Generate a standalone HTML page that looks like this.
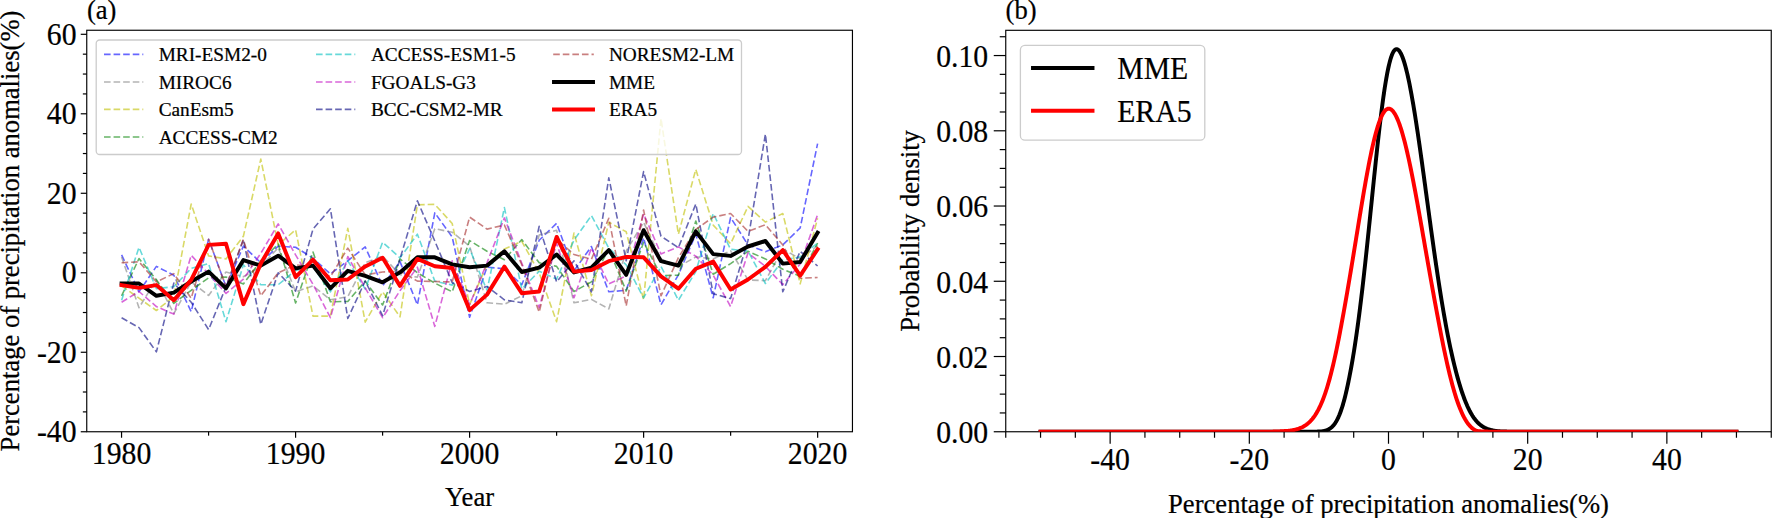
<!DOCTYPE html>
<html lang="en"><head><meta charset="utf-8"><title>Precipitation anomalies</title>
<style>html,body{margin:0;padding:0;background:#fff;}body{width:1772px;height:518px;overflow:hidden;}svg{display:block;}text{font-family:"Liberation Serif", "Times New Roman", serif;fill:#000;stroke:#000;stroke-width:0.22px;}.tk{font-size:31.2px;}.lb{font-size:26.6px;}.lg{font-size:19.3px;}.lgb{font-size:31.2px;}</style></head><body>
<svg width="1772" height="518" viewBox="0 0 1772 518">
<rect x="0" y="0" width="1772" height="518" fill="#ffffff"/>
<defs><clipPath id="ca"><rect x="86.75" y="30.25" width="765.70" height="401.50"/></clipPath><clipPath id="cb"><rect x="1005.75" y="30.30" width="765.50" height="401.45"/></clipPath></defs>
<g clip-path="url(#ca)" fill="none" stroke-linejoin="round">
<polyline points="121.6,254.9 139.0,291.8 156.4,266.4 173.8,275.2 191.2,311.7 208.6,239.2 226.0,286.7 243.4,246.1 260.8,262.8 278.2,246.1 295.6,247.3 313.0,258.1 330.4,274.0 347.8,260.8 365.2,246.9 382.6,285.9 400.0,261.6 417.4,304.8 434.8,212.8 452.2,237.0 469.6,317.3 487.0,267.2 504.4,268.8 521.8,284.7 539.2,240.2 556.6,223.3 574.0,270.8 591.4,246.5 608.8,291.8 626.2,290.3 643.6,237.8 661.0,304.8 678.4,274.8 695.8,234.2 713.2,297.8 730.6,217.5 748.0,244.9 765.4,251.7 782.8,244.9 800.2,227.9 817.6,143.6" stroke="#0000ff" stroke-opacity="0.60" stroke-width="1.60" stroke-dasharray="6.6 2.98"/>
<polyline points="121.6,256.9 139.0,307.7 156.4,279.5 173.8,313.7 191.2,281.9 208.6,295.4 226.0,272.0 243.4,276.7 260.8,266.8 278.2,247.7 295.6,291.8 313.0,285.9 330.4,299.8 347.8,296.6 365.2,262.8 382.6,256.1 400.0,274.8 417.4,277.1 434.8,228.7 452.2,232.2 469.6,246.1 487.0,302.8 504.4,304.2 521.8,295.8 539.2,235.0 556.6,230.2 574.0,302.8 591.4,299.4 608.8,308.9 626.2,250.9 643.6,222.3 661.0,258.9 678.4,266.8 695.8,256.9 713.2,258.9 730.6,250.9 748.0,279.9 765.4,280.7 782.8,248.9 800.2,258.9 817.6,245.7" stroke="#808080" stroke-opacity="0.60" stroke-width="1.60" stroke-dasharray="6.6 2.98"/>
<polyline points="121.6,285.9 139.0,298.2 156.4,310.5 173.8,296.6 191.2,204.0 208.6,255.9 226.0,258.9 243.4,236.2 260.8,159.1 278.2,244.9 295.6,229.8 313.0,316.1 330.4,316.1 347.8,228.3 365.2,322.1 382.6,291.8 400.0,316.9 417.4,204.8 434.8,204.4 452.2,223.5 469.6,304.6 487.0,264.8 504.4,248.9 521.8,241.4 539.2,272.8 556.6,321.7 574.0,233.0 591.4,295.8 608.8,222.3 626.2,231.8 643.6,299.8 661.0,118.6 678.4,234.2 695.8,169.4 713.2,225.1 730.6,243.8 748.0,206.4 765.4,222.1 782.8,213.5 800.2,283.9 817.6,218.3" stroke="#bfbf00" stroke-opacity="0.60" stroke-width="1.60" stroke-dasharray="6.6 2.98"/>
<polyline points="121.6,295.8 139.0,258.5 156.4,279.9 173.8,303.4 191.2,290.3 208.6,277.9 226.0,277.1 243.4,283.9 260.8,260.8 278.2,244.2 295.6,303.0 313.0,252.1 330.4,301.8 347.8,301.4 365.2,281.1 382.6,305.0 400.0,258.9 417.4,272.8 434.8,283.1 452.2,291.8 469.6,240.6 487.0,251.3 504.4,259.7 521.8,239.6 539.2,262.8 556.6,266.4 574.0,291.5 591.4,281.9 608.8,248.9 626.2,291.1 643.6,242.2 661.0,275.6 678.4,275.2 695.8,221.1 713.2,274.2 730.6,263.6 748.0,251.3 765.4,258.9 782.8,269.2 800.2,276.3 817.6,243.0" stroke="#008000" stroke-opacity="0.60" stroke-width="1.60" stroke-dasharray="6.6 2.98"/>
<polyline points="121.6,300.2 139.0,247.3 156.4,288.7 173.8,286.7 191.2,268.4 208.6,263.6 226.0,321.7 243.4,264.8 260.8,284.7 278.2,284.7 295.6,270.4 313.0,266.8 330.4,291.8 347.8,260.8 365.2,289.1 382.6,242.2 400.0,257.9 417.4,234.2 434.8,281.1 452.2,285.1 469.6,248.9 487.0,290.3 504.4,207.6 521.8,289.1 539.2,271.2 556.6,279.1 574.0,240.2 591.4,215.5 608.8,248.1 626.2,264.8 643.6,297.8 661.0,266.4 678.4,300.2 695.8,271.6 713.2,213.5 730.6,249.3 748.0,250.9 765.4,283.5 782.8,260.1 800.2,256.9 817.6,243.0" stroke="#00bfbf" stroke-opacity="0.60" stroke-width="1.60" stroke-dasharray="6.6 2.98"/>
<polyline points="121.6,302.2 139.0,291.5 156.4,306.6 173.8,314.1 191.2,255.3 208.6,274.0 226.0,293.4 243.4,279.1 260.8,253.3 278.2,223.9 295.6,254.9 313.0,284.3 330.4,317.7 347.8,256.5 365.2,287.9 382.6,317.7 400.0,290.7 417.4,267.2 434.8,326.4 452.2,260.8 469.6,304.6 487.0,262.8 504.4,217.9 521.8,263.2 539.2,307.7 556.6,243.0 574.0,297.8 591.4,248.1 608.8,283.9 626.2,275.9 643.6,213.9 661.0,253.9 678.4,246.9 695.8,256.1 713.2,275.2 730.6,306.6 748.0,252.9 765.4,266.4 782.8,284.7 800.2,264.0 817.6,214.7" stroke="#bf00bf" stroke-opacity="0.60" stroke-width="1.60" stroke-dasharray="6.6 2.98"/>
<polyline points="121.6,317.7 139.0,327.6 156.4,351.9 173.8,283.1 191.2,302.2 208.6,329.6 226.0,286.7 243.4,239.6 260.8,324.4 278.2,272.8 295.6,291.1 313.0,229.1 330.4,208.8 347.8,318.5 365.2,281.1 382.6,315.7 400.0,258.9 417.4,200.8 434.8,241.0 452.2,282.7 469.6,291.5 487.0,286.5 504.4,299.8 521.8,302.8 539.2,226.3 556.6,281.9 574.0,260.8 591.4,291.8 608.8,177.8 626.2,260.8 643.6,171.6 661.0,236.2 678.4,247.7 695.8,204.0 713.2,293.8 730.6,298.6 748.0,240.2 765.4,134.1 782.8,291.8 800.2,251.3 817.6,266.0" stroke="#000080" stroke-opacity="0.60" stroke-width="1.60" stroke-dasharray="6.6 2.98"/>
<polyline points="121.6,262.8 139.0,261.8 156.4,281.9 173.8,273.6 191.2,298.2 208.6,239.2 226.0,286.7 243.4,239.6 260.8,295.8 278.2,272.8 295.6,264.8 313.0,266.8 330.4,276.7 347.8,248.1 365.2,274.8 382.6,272.0 400.0,271.2 417.4,281.1 434.8,281.5 452.2,281.9 469.6,217.1 487.0,229.1 504.4,225.1 521.8,264.8 539.2,312.1 556.6,239.0 574.0,254.5 591.4,259.3 608.8,218.3 626.2,306.0 643.6,210.0 661.0,295.8 678.4,257.7 695.8,229.4 713.2,217.1 730.6,213.5 748.0,231.4 765.4,224.7 782.8,244.9 800.2,278.3 817.6,277.5" stroke="#a52a2a" stroke-opacity="0.60" stroke-width="1.60" stroke-dasharray="6.6 2.98"/>
<polyline points="121.6,283.5 139.0,283.5 156.4,295.8 173.8,292.6 191.2,281.5 208.6,271.6 226.0,288.3 243.4,260.1 260.8,265.6 278.2,255.7 295.6,268.4 313.0,265.6 330.4,288.3 347.8,270.8 365.2,275.9 382.6,282.3 400.0,272.4 417.4,257.3 434.8,257.3 452.2,264.4 469.6,267.2 487.0,265.6 504.4,251.3 521.8,272.0 539.2,267.6 556.6,254.5 574.0,272.4 591.4,267.6 608.8,250.1 626.2,274.8 643.6,230.2 661.0,261.2 678.4,265.6 695.8,231.4 713.2,254.1 730.6,255.9 748.0,246.5 765.4,241.0 782.8,263.6 800.2,262.0 817.6,232.6" stroke="#000000" stroke-width="3.95" stroke-linejoin="round" stroke-linecap="square"/>
<polyline points="121.6,285.1 139.0,287.9 156.4,285.1 173.8,300.2 191.2,279.9 208.6,244.9 226.0,243.8 243.4,304.2 260.8,263.6 278.2,233.4 295.6,277.1 313.0,259.7 330.4,280.3 347.8,279.5 365.2,266.4 382.6,257.7 400.0,285.9 417.4,258.9 434.8,266.2 452.2,268.0 469.6,310.1 487.0,294.6 504.4,266.6 521.8,293.2 539.2,291.5 556.6,237.0 574.0,271.6 591.4,270.0 608.8,261.2 626.2,256.9 643.6,257.3 661.0,276.3 678.4,288.7 695.8,268.8 713.2,261.6 730.6,289.5 748.0,279.5 765.4,266.8 782.8,250.1 800.2,275.6 817.6,249.3" stroke="#ff0000" stroke-width="3.95" stroke-linejoin="round" stroke-linecap="square"/>
</g>
<rect x="96.2" y="40.0" width="645.3" height="114.5" rx="3.5" ry="3.5" fill="#ffffff" fill-opacity="0.8" stroke="#cccccc" stroke-width="1.3"/>
<line x1="104.0" y1="54.4" x2="143.3" y2="54.4" stroke="#0000ff" stroke-opacity="0.60" stroke-width="1.60" stroke-dasharray="6.6 2.98"/>
<text class="lg" x="158.7" y="61.4">MRI-ESM2-0</text>
<line x1="104.0" y1="82.0" x2="143.3" y2="82.0" stroke="#808080" stroke-opacity="0.60" stroke-width="1.60" stroke-dasharray="6.6 2.98"/>
<text class="lg" x="158.7" y="89.0">MIROC6</text>
<line x1="104.0" y1="109.4" x2="143.3" y2="109.4" stroke="#bfbf00" stroke-opacity="0.60" stroke-width="1.60" stroke-dasharray="6.6 2.98"/>
<text class="lg" x="158.7" y="116.4">CanEsm5</text>
<line x1="104.0" y1="137.0" x2="143.3" y2="137.0" stroke="#008000" stroke-opacity="0.60" stroke-width="1.60" stroke-dasharray="6.6 2.98"/>
<text class="lg" x="158.7" y="144.0">ACCESS-CM2</text>
<line x1="316.0" y1="54.4" x2="355.3" y2="54.4" stroke="#00bfbf" stroke-opacity="0.60" stroke-width="1.60" stroke-dasharray="6.6 2.98"/>
<text class="lg" x="370.9" y="61.4">ACCESS-ESM1-5</text>
<line x1="316.0" y1="82.0" x2="355.3" y2="82.0" stroke="#bf00bf" stroke-opacity="0.60" stroke-width="1.60" stroke-dasharray="6.6 2.98"/>
<text class="lg" x="370.9" y="89.0">FGOALS-G3</text>
<line x1="316.0" y1="109.4" x2="355.3" y2="109.4" stroke="#000080" stroke-opacity="0.60" stroke-width="1.60" stroke-dasharray="6.6 2.98"/>
<text class="lg" x="370.9" y="116.4">BCC-CSM2-MR</text>
<line x1="553.2" y1="54.4" x2="593.8" y2="54.4" stroke="#a52a2a" stroke-opacity="0.60" stroke-width="1.60" stroke-dasharray="6.6 2.98"/>
<text class="lg" x="608.9" y="61.4">NORESM2-LM</text>
<line x1="554.0" y1="82.0" x2="593.0" y2="82.0" stroke="#000000" stroke-width="3.95" stroke-linecap="square"/>
<text class="lg" x="608.9" y="89.0">MME</text>
<line x1="554.0" y1="109.4" x2="593.0" y2="109.4" stroke="#ff0000" stroke-width="3.95" stroke-linecap="square"/>
<text class="lg" x="608.9" y="116.4">ERA5</text>
<rect x="86.75" y="30.25" width="765.70" height="401.50" fill="none" stroke="#000" stroke-width="1.15"/>
<g stroke="#000" stroke-width="1.20">
<line x1="80.75" y1="431.75" x2="86.75" y2="431.75"/>
<line x1="82.85" y1="411.88" x2="86.75" y2="411.88"/>
<line x1="82.85" y1="392.00" x2="86.75" y2="392.00"/>
<line x1="82.85" y1="372.13" x2="86.75" y2="372.13"/>
<line x1="80.75" y1="352.26" x2="86.75" y2="352.26"/>
<line x1="82.85" y1="332.39" x2="86.75" y2="332.39"/>
<line x1="82.85" y1="312.51" x2="86.75" y2="312.51"/>
<line x1="82.85" y1="292.64" x2="86.75" y2="292.64"/>
<line x1="80.75" y1="272.77" x2="86.75" y2="272.77"/>
<line x1="82.85" y1="252.90" x2="86.75" y2="252.90"/>
<line x1="82.85" y1="233.03" x2="86.75" y2="233.03"/>
<line x1="82.85" y1="213.15" x2="86.75" y2="213.15"/>
<line x1="80.75" y1="193.28" x2="86.75" y2="193.28"/>
<line x1="82.85" y1="173.41" x2="86.75" y2="173.41"/>
<line x1="82.85" y1="153.54" x2="86.75" y2="153.54"/>
<line x1="82.85" y1="133.66" x2="86.75" y2="133.66"/>
<line x1="80.75" y1="113.79" x2="86.75" y2="113.79"/>
<line x1="82.85" y1="93.92" x2="86.75" y2="93.92"/>
<line x1="82.85" y1="74.05" x2="86.75" y2="74.05"/>
<line x1="82.85" y1="54.17" x2="86.75" y2="54.17"/>
<line x1="80.75" y1="34.30" x2="86.75" y2="34.30"/>
<line x1="121.55" y1="431.75" x2="121.55" y2="437.75"/>
<line x1="208.57" y1="431.75" x2="208.57" y2="435.65"/>
<line x1="295.58" y1="431.75" x2="295.58" y2="437.75"/>
<line x1="382.59" y1="431.75" x2="382.59" y2="435.65"/>
<line x1="469.60" y1="431.75" x2="469.60" y2="437.75"/>
<line x1="556.61" y1="431.75" x2="556.61" y2="435.65"/>
<line x1="643.62" y1="431.75" x2="643.62" y2="437.75"/>
<line x1="730.63" y1="431.75" x2="730.63" y2="435.65"/>
<line x1="817.65" y1="431.75" x2="817.65" y2="437.75"/>
</g>
<text class="tk" text-anchor="end" transform="translate(76.6,442.4) scale(0.953,1)">-40</text>
<text class="tk" text-anchor="end" transform="translate(76.6,362.9) scale(0.953,1)">-20</text>
<text class="tk" text-anchor="end" transform="translate(76.6,283.4) scale(0.953,1)">0</text>
<text class="tk" text-anchor="end" transform="translate(76.6,203.9) scale(0.953,1)">20</text>
<text class="tk" text-anchor="end" transform="translate(76.6,124.4) scale(0.953,1)">40</text>
<text class="tk" text-anchor="end" transform="translate(76.6,44.9) scale(0.953,1)">60</text>
<text class="tk" text-anchor="middle" transform="translate(121.6,464.3) scale(0.953,1)">1980</text>
<text class="tk" text-anchor="middle" transform="translate(295.6,464.3) scale(0.953,1)">1990</text>
<text class="tk" text-anchor="middle" transform="translate(469.6,464.3) scale(0.953,1)">2000</text>
<text class="tk" text-anchor="middle" transform="translate(643.6,464.3) scale(0.953,1)">2010</text>
<text class="tk" text-anchor="middle" transform="translate(817.6,464.3) scale(0.953,1)">2020</text>
<text class="lb" text-anchor="middle" x="469.6" y="506.3">Year</text>
<text class="lb" text-anchor="middle" transform="translate(19.0,231.0) rotate(-90)">Percentage of precipitation anomalies(%)</text>
<text class="lb" x="86.9" y="18.8">(a)</text>
<rect x="1005.75" y="30.30" width="765.50" height="401.45" fill="none" stroke="#000" stroke-width="1.15"/>
<g stroke="#000" stroke-width="1.20">
<line x1="993.75" y1="431.75" x2="1005.75" y2="431.75"/>
<line x1="999.75" y1="412.94" x2="1005.75" y2="412.94"/>
<line x1="999.75" y1="394.13" x2="1005.75" y2="394.13"/>
<line x1="999.75" y1="375.32" x2="1005.75" y2="375.32"/>
<line x1="993.75" y1="356.51" x2="1005.75" y2="356.51"/>
<line x1="999.75" y1="337.70" x2="1005.75" y2="337.70"/>
<line x1="999.75" y1="318.89" x2="1005.75" y2="318.89"/>
<line x1="999.75" y1="300.08" x2="1005.75" y2="300.08"/>
<line x1="993.75" y1="281.27" x2="1005.75" y2="281.27"/>
<line x1="999.75" y1="262.46" x2="1005.75" y2="262.46"/>
<line x1="999.75" y1="243.65" x2="1005.75" y2="243.65"/>
<line x1="999.75" y1="224.84" x2="1005.75" y2="224.84"/>
<line x1="993.75" y1="206.03" x2="1005.75" y2="206.03"/>
<line x1="999.75" y1="187.22" x2="1005.75" y2="187.22"/>
<line x1="999.75" y1="168.41" x2="1005.75" y2="168.41"/>
<line x1="999.75" y1="149.60" x2="1005.75" y2="149.60"/>
<line x1="993.75" y1="130.79" x2="1005.75" y2="130.79"/>
<line x1="999.75" y1="111.98" x2="1005.75" y2="111.98"/>
<line x1="999.75" y1="93.17" x2="1005.75" y2="93.17"/>
<line x1="999.75" y1="74.36" x2="1005.75" y2="74.36"/>
<line x1="993.75" y1="55.55" x2="1005.75" y2="55.55"/>
<line x1="999.75" y1="36.74" x2="1005.75" y2="36.74"/>
<line x1="1005.75" y1="431.75" x2="1005.75" y2="437.75"/>
<line x1="1040.55" y1="431.75" x2="1040.55" y2="437.75"/>
<line x1="1075.34" y1="431.75" x2="1075.34" y2="437.75"/>
<line x1="1110.14" y1="431.75" x2="1110.14" y2="443.75"/>
<line x1="1144.93" y1="431.75" x2="1144.93" y2="437.75"/>
<line x1="1179.73" y1="431.75" x2="1179.73" y2="437.75"/>
<line x1="1214.52" y1="431.75" x2="1214.52" y2="437.75"/>
<line x1="1249.32" y1="431.75" x2="1249.32" y2="443.75"/>
<line x1="1284.11" y1="431.75" x2="1284.11" y2="437.75"/>
<line x1="1318.91" y1="431.75" x2="1318.91" y2="437.75"/>
<line x1="1353.70" y1="431.75" x2="1353.70" y2="437.75"/>
<line x1="1388.50" y1="431.75" x2="1388.50" y2="443.75"/>
<line x1="1423.30" y1="431.75" x2="1423.30" y2="437.75"/>
<line x1="1458.09" y1="431.75" x2="1458.09" y2="437.75"/>
<line x1="1492.89" y1="431.75" x2="1492.89" y2="437.75"/>
<line x1="1527.68" y1="431.75" x2="1527.68" y2="443.75"/>
<line x1="1562.48" y1="431.75" x2="1562.48" y2="437.75"/>
<line x1="1597.27" y1="431.75" x2="1597.27" y2="437.75"/>
<line x1="1632.07" y1="431.75" x2="1632.07" y2="437.75"/>
<line x1="1666.86" y1="431.75" x2="1666.86" y2="443.75"/>
<line x1="1701.66" y1="431.75" x2="1701.66" y2="437.75"/>
<line x1="1736.45" y1="431.75" x2="1736.45" y2="437.75"/>
<line x1="1771.25" y1="431.75" x2="1771.25" y2="437.75"/>
</g>
<g clip-path="url(#cb)" fill="none" stroke-linejoin="round" stroke-linecap="butt">
<polyline points="1038.57,431.75 1257.39,431.75 1257.78,431.75 1258.17,431.75 1258.57,431.75 1258.96,431.75 1259.35,431.75 1259.74,431.75 1260.13,431.75 1260.52,431.75 1260.92,431.75 1261.31,431.75 1261.70,431.75 1262.09,431.75 1262.48,431.75 1262.87,431.75 1263.26,431.75 1263.66,431.75 1264.05,431.75 1264.44,431.75 1264.83,431.75 1265.22,431.75 1265.61,431.75 1266.01,431.75 1266.40,431.75 1266.79,431.75 1267.18,431.75 1267.57,431.75 1267.96,431.75 1268.36,431.75 1268.75,431.75 1269.14,431.75 1269.53,431.75 1269.92,431.75 1270.31,431.75 1270.70,431.75 1271.10,431.75 1271.49,431.75 1271.88,431.75 1272.27,431.75 1272.66,431.75 1273.05,431.75 1273.45,431.75 1273.84,431.75 1274.23,431.75 1274.62,431.75 1275.01,431.75 1275.40,431.75 1275.80,431.75 1276.19,431.75 1276.58,431.75 1276.97,431.75 1277.36,431.75 1277.75,431.75 1278.15,431.75 1278.54,431.75 1278.93,431.75 1279.32,431.75 1279.71,431.75 1280.11,431.75 1280.50,431.75 1280.89,431.75 1281.28,431.75 1281.67,431.75 1282.06,431.75 1282.46,431.75 1282.85,431.75 1283.24,431.75 1283.63,431.75 1284.02,431.75 1284.41,431.75 1284.81,431.75 1285.20,431.75 1285.59,431.75 1285.98,431.75 1286.37,431.75 1286.77,431.75 1287.16,431.75 1287.55,431.75 1287.94,431.75 1288.33,431.75 1288.72,431.75 1289.12,431.75 1289.51,431.75 1289.90,431.75 1290.29,431.75 1290.68,431.75 1291.08,431.75 1291.47,431.75 1291.86,431.75 1292.25,431.75 1292.64,431.75 1293.03,431.75 1293.43,431.75 1293.82,431.75 1294.21,431.75 1294.60,431.75 1294.99,431.75 1295.39,431.75 1295.78,431.75 1296.17,431.75 1296.56,431.75 1296.95,431.75 1297.35,431.75 1297.74,431.75 1298.13,431.75 1298.52,431.75 1298.91,431.75 1299.31,431.75 1299.70,431.75 1300.09,431.75 1300.48,431.75 1300.87,431.75 1301.27,431.75 1301.66,431.74 1302.05,431.74 1302.44,431.74 1302.83,431.74 1303.23,431.74 1303.62,431.74 1304.01,431.74 1304.40,431.74 1304.79,431.74 1305.19,431.74 1305.58,431.74 1305.97,431.74 1306.36,431.73 1306.76,431.73 1307.15,431.73 1307.54,431.73 1307.93,431.73 1308.32,431.73 1308.72,431.72 1309.11,431.72 1309.50,431.72 1309.89,431.72 1310.28,431.71 1310.68,431.71 1311.07,431.71 1311.46,431.70 1311.85,431.70 1312.25,431.69 1312.64,431.69 1313.03,431.68 1313.42,431.68 1313.82,431.67 1314.21,431.66 1314.60,431.66 1314.99,431.65 1315.38,431.64 1315.78,431.63 1316.17,431.62 1316.56,431.61 1316.95,431.60 1317.35,431.59 1317.74,431.57 1318.13,431.56 1318.52,431.54 1318.92,431.53 1319.31,431.51 1319.70,431.49 1320.09,431.47 1320.49,431.45 1320.88,431.42 1321.27,431.40 1321.63,431.37 1321.87,431.34 1322.11,431.31 1322.35,431.28 1322.60,431.24 1322.84,431.20 1323.09,431.16 1323.34,431.12 1323.59,431.07 1323.84,431.02 1324.10,430.97 1324.35,430.91 1324.61,430.85 1324.87,430.79 1325.13,430.72 1325.40,430.65 1325.66,430.57 1325.93,430.49 1326.19,430.40 1326.46,430.30 1326.74,430.20 1327.01,430.10 1327.28,429.99 1327.56,429.87 1327.84,429.74 1328.12,429.61 1328.40,429.46 1328.68,429.31 1328.97,429.15 1329.25,428.98 1329.54,428.81 1329.83,428.62 1330.13,428.42 1330.42,428.21 1330.72,427.98 1331.01,427.75 1331.31,427.50 1331.61,427.24 1331.91,426.96 1332.22,426.67 1332.52,426.36 1332.83,426.04 1333.14,425.70 1333.45,425.34 1333.77,424.97 1334.08,424.57 1334.40,424.16 1334.72,423.72 1335.04,423.27 1335.36,422.79 1335.68,422.28 1336.01,421.76 1336.33,421.20 1336.66,420.63 1336.99,420.02 1337.33,419.39 1337.66,418.72 1338.00,418.03 1338.34,417.31 1338.68,416.55 1339.02,415.76 1339.37,414.94 1339.71,414.08 1340.06,413.19 1340.41,412.25 1340.76,411.28 1341.12,410.27 1341.47,409.22 1341.83,408.13 1342.20,406.99 1342.56,405.81 1342.93,404.58 1343.29,403.31 1343.67,401.99 1344.04,400.62 1344.42,399.20 1344.80,397.73 1345.18,396.21 1345.57,394.63 1345.96,393.00 1346.35,391.31 1346.75,389.57 1347.15,387.77 1347.56,385.91 1347.97,383.99 1348.38,382.01 1348.80,379.97 1349.22,377.87 1349.65,375.70 1350.08,373.47 1350.51,371.18 1350.95,368.82 1351.39,366.40 1351.84,363.91 1352.28,361.35 1352.73,358.73 1353.18,356.03 1353.64,353.28 1354.09,350.45 1354.55,347.55 1355.00,344.59 1355.46,341.55 1355.92,338.45 1356.38,335.29 1356.84,332.05 1357.30,328.74 1357.77,325.37 1358.23,321.94 1358.69,318.43 1359.16,314.87 1359.62,311.23 1360.09,307.54 1360.55,303.78 1361.02,299.96 1361.49,296.09 1361.95,292.15 1362.42,288.16 1362.89,284.11 1363.36,280.01 1363.82,275.86 1364.29,271.65 1364.76,267.40 1365.23,263.11 1365.70,258.77 1366.17,254.39 1366.64,249.97 1367.11,245.52 1367.58,241.04 1368.05,236.52 1368.52,231.98 1368.99,227.41 1369.47,222.82 1369.94,218.22 1370.41,213.60 1370.88,208.97 1371.36,204.33 1371.83,199.69 1372.30,195.05 1372.78,190.42 1373.25,185.79 1373.73,181.17 1374.20,176.57 1374.68,171.98 1375.16,167.43 1375.63,162.89 1376.11,158.39 1376.59,153.93 1377.06,149.50 1377.54,145.12 1378.02,140.79 1378.50,136.51 1378.98,132.29 1379.46,128.13 1379.94,124.03 1380.43,120.01 1380.91,116.05 1381.39,112.18 1381.87,108.39 1382.36,104.68 1382.85,101.06 1383.33,97.54 1383.82,94.11 1384.31,90.79 1384.80,87.57 1385.29,84.45 1385.78,81.45 1386.27,78.57 1386.77,75.80 1387.26,73.16 1387.76,70.64 1388.26,68.25 1388.76,65.99 1389.26,63.86 1389.76,61.87 1390.27,60.02 1390.77,58.30 1391.28,56.73 1391.80,55.30 1392.31,54.02 1392.83,52.89 1393.35,51.90 1393.88,51.06 1394.41,50.38 1394.94,49.84 1395.48,49.46 1396.02,49.23 1396.57,49.15 1397.13,49.23 1397.69,49.46 1398.26,49.84 1398.83,50.38 1399.40,51.06 1399.98,51.90 1400.56,52.89 1401.15,54.02 1401.74,55.30 1402.33,56.73 1402.92,58.30 1403.52,60.02 1404.12,61.87 1404.72,63.86 1405.32,65.99 1405.92,68.25 1406.53,70.64 1407.14,73.16 1407.75,75.80 1408.36,78.57 1408.97,81.45 1409.58,84.45 1410.19,87.57 1410.81,90.79 1411.42,94.11 1412.04,97.54 1412.66,101.06 1413.28,104.68 1413.90,108.39 1414.52,112.18 1415.14,116.05 1415.76,120.01 1416.38,124.03 1417.00,128.13 1417.63,132.29 1418.25,136.51 1418.87,140.79 1419.50,145.12 1420.12,149.50 1420.75,153.93 1421.37,158.39 1422.00,162.89 1422.63,167.43 1423.25,171.98 1423.88,176.57 1424.51,181.17 1425.14,185.79 1425.76,190.42 1426.39,195.05 1427.02,199.69 1427.65,204.33 1428.28,208.97 1428.91,213.60 1429.54,218.22 1430.17,222.82 1430.80,227.41 1431.43,231.98 1432.06,236.52 1432.69,241.04 1433.32,245.52 1433.95,249.97 1434.58,254.39 1435.21,258.77 1435.84,263.11 1436.48,267.40 1437.11,271.65 1437.74,275.86 1438.37,280.01 1439.00,284.11 1439.63,288.16 1440.26,292.15 1440.89,296.09 1441.52,299.96 1442.15,303.78 1442.79,307.54 1443.42,311.23 1444.05,314.87 1444.68,318.43 1445.31,321.94 1445.93,325.37 1446.56,328.74 1447.19,332.05 1447.82,335.29 1448.45,338.45 1449.07,341.55 1449.70,344.59 1450.32,347.55 1450.95,350.45 1451.57,353.28 1452.19,356.03 1452.81,358.73 1453.43,361.35 1454.04,363.91 1454.65,366.40 1455.26,368.82 1455.87,371.18 1456.48,373.47 1457.08,375.70 1457.67,377.87 1458.26,379.97 1458.85,382.01 1459.44,383.99 1460.02,385.91 1460.59,387.77 1461.17,389.57 1461.73,391.31 1462.30,393.00 1462.86,394.63 1463.42,396.21 1463.97,397.73 1464.52,399.20 1465.07,400.62 1465.61,401.99 1466.16,403.31 1466.70,404.58 1467.23,405.81 1467.77,406.99 1468.30,408.13 1468.83,409.22 1469.36,410.27 1469.89,411.28 1470.41,412.25 1470.94,413.19 1471.46,414.08 1471.98,414.94 1472.49,415.76 1473.01,416.55 1473.52,417.31 1474.03,418.03 1474.54,418.72 1475.05,419.39 1475.55,420.02 1476.06,420.63 1476.56,421.20 1477.06,421.76 1477.56,422.28 1478.06,422.79 1478.55,423.27 1479.04,423.72 1479.54,424.16 1480.03,424.57 1480.51,424.97 1481.00,425.34 1481.48,425.70 1481.97,426.04 1482.45,426.36 1482.93,426.67 1483.41,426.96 1483.88,427.24 1484.36,427.50 1484.83,427.75 1485.30,427.98 1485.77,428.21 1486.24,428.42 1486.70,428.62 1487.17,428.81 1487.63,428.98 1488.09,429.15 1488.55,429.31 1489.01,429.46 1489.47,429.61 1489.92,429.74 1490.37,429.87 1490.82,429.99 1491.27,430.10 1491.72,430.20 1492.17,430.30 1492.61,430.40 1493.05,430.49 1493.49,430.57 1493.93,430.65 1494.37,430.72 1494.81,430.79 1495.24,430.85 1495.67,430.91 1496.11,430.97 1496.53,431.02 1496.96,431.07 1497.39,431.12 1497.81,431.16 1498.24,431.20 1498.66,431.24 1499.08,431.28 1499.49,431.31 1499.91,431.34 1500.32,431.37 1500.86,431.40 1501.43,431.42 1501.99,431.45 1502.56,431.47 1503.13,431.49 1503.70,431.51 1504.26,431.53 1504.83,431.54 1505.40,431.56 1505.97,431.57 1506.54,431.59 1507.10,431.60 1507.67,431.61 1508.24,431.62 1508.81,431.63 1509.38,431.64 1509.94,431.65 1510.51,431.66 1511.08,431.66 1511.65,431.67 1512.22,431.68 1512.78,431.68 1513.35,431.69 1513.92,431.69 1514.49,431.70 1515.06,431.70 1515.62,431.71 1516.19,431.71 1516.76,431.71 1517.33,431.72 1517.90,431.72 1518.47,431.72 1519.03,431.72 1519.60,431.73 1520.17,431.73 1520.74,431.73 1521.31,431.73 1521.87,431.73 1522.44,431.73 1523.01,431.74 1523.58,431.74 1524.15,431.74 1524.72,431.74 1525.28,431.74 1525.85,431.74 1526.42,431.74 1526.99,431.74 1527.56,431.74 1528.13,431.74 1528.69,431.74 1529.26,431.74 1529.83,431.75 1530.40,431.75 1530.97,431.75 1531.54,431.75 1532.10,431.75 1532.67,431.75 1533.24,431.75 1533.81,431.75 1534.38,431.75 1534.95,431.75 1535.51,431.75 1536.08,431.75 1536.65,431.75 1537.22,431.75 1537.79,431.75 1538.36,431.75 1538.92,431.75 1539.49,431.75 1540.06,431.75 1540.63,431.75 1541.20,431.75 1541.77,431.75 1542.33,431.75 1542.90,431.75 1543.47,431.75 1544.04,431.75 1544.61,431.75 1545.18,431.75 1545.75,431.75 1546.31,431.75 1546.88,431.75 1547.45,431.75 1548.02,431.75 1548.59,431.75 1549.16,431.75 1549.73,431.75 1550.29,431.75 1550.86,431.75 1551.43,431.75 1552.00,431.75 1552.57,431.75 1553.14,431.75 1553.71,431.75 1554.27,431.75 1554.84,431.75 1555.41,431.75 1555.98,431.75 1556.55,431.75 1557.12,431.75 1557.69,431.75 1558.25,431.75 1558.82,431.75 1559.39,431.75 1559.96,431.75 1560.53,431.75 1561.10,431.75 1561.67,431.75 1562.23,431.75 1562.80,431.75 1563.37,431.75 1563.94,431.75 1564.51,431.75 1565.08,431.75 1565.65,431.75 1566.22,431.75 1566.78,431.75 1567.35,431.75 1567.92,431.75 1568.49,431.75 1569.06,431.75 1569.63,431.75 1570.20,431.75 1570.76,431.75 1571.33,431.75 1571.90,431.75 1572.47,431.75 1573.04,431.75 1573.61,431.75 1574.18,431.75 1574.75,431.75 1575.31,431.75 1575.88,431.75 1576.45,431.75 1577.02,431.75 1577.59,431.75 1578.16,431.75 1578.73,431.75 1579.30,431.75 1579.86,431.75 1580.43,431.75 1581.00,431.75 1581.57,431.75 1582.14,431.75 1582.71,431.75 1583.28,431.75 1583.85,431.75 1584.41,431.75 1584.98,431.75 1585.55,431.75 1586.12,431.75 1586.69,431.75 1587.26,431.75 1587.83,431.75 1588.40,431.75 1588.96,431.75 1589.53,431.75 1590.10,431.75 1590.67,431.75 1591.24,431.75 1591.81,431.75 1592.38,431.75 1592.95,431.75 1593.52,431.75 1738.43,431.75" stroke="#000000" stroke-width="3.95"/>
<polyline points="1038.57,431.75 1187.92,431.75 1188.46,431.75 1189.01,431.75 1189.56,431.75 1190.11,431.75 1190.66,431.75 1191.21,431.75 1191.76,431.75 1192.31,431.75 1192.86,431.75 1193.41,431.75 1193.96,431.75 1194.51,431.75 1195.06,431.75 1195.61,431.75 1196.16,431.75 1196.71,431.75 1197.26,431.75 1197.81,431.75 1198.36,431.75 1198.91,431.75 1199.46,431.75 1200.01,431.75 1200.56,431.75 1201.11,431.75 1201.66,431.75 1202.21,431.75 1202.76,431.75 1203.31,431.75 1203.86,431.75 1204.41,431.75 1204.96,431.75 1205.51,431.75 1206.06,431.75 1206.61,431.75 1207.16,431.75 1207.71,431.75 1208.26,431.75 1208.81,431.75 1209.36,431.75 1209.91,431.75 1210.46,431.75 1211.01,431.75 1211.56,431.75 1212.10,431.75 1212.65,431.75 1213.20,431.75 1213.75,431.75 1214.30,431.75 1214.85,431.75 1215.40,431.75 1215.95,431.75 1216.50,431.75 1217.05,431.75 1217.60,431.75 1218.15,431.75 1218.70,431.75 1219.25,431.75 1219.80,431.75 1220.35,431.75 1220.90,431.75 1221.45,431.75 1222.00,431.75 1222.55,431.75 1223.10,431.75 1223.65,431.75 1224.20,431.75 1224.75,431.75 1225.30,431.75 1225.85,431.75 1226.40,431.75 1226.95,431.75 1227.50,431.75 1228.05,431.75 1228.60,431.75 1229.15,431.75 1229.70,431.75 1230.25,431.75 1230.80,431.75 1231.35,431.75 1231.90,431.75 1232.45,431.75 1233.00,431.75 1233.55,431.75 1234.10,431.75 1234.65,431.75 1235.20,431.75 1235.74,431.75 1236.29,431.75 1236.84,431.75 1237.39,431.75 1237.94,431.75 1238.49,431.75 1239.04,431.75 1239.59,431.75 1240.14,431.75 1240.69,431.75 1241.24,431.75 1241.79,431.75 1242.34,431.75 1242.89,431.75 1243.44,431.75 1243.99,431.75 1244.54,431.75 1245.09,431.75 1245.64,431.75 1246.19,431.75 1246.74,431.75 1247.29,431.75 1247.84,431.75 1248.39,431.75 1248.94,431.75 1249.49,431.75 1250.04,431.75 1250.59,431.75 1251.14,431.74 1251.69,431.74 1252.24,431.74 1252.79,431.74 1253.34,431.74 1253.89,431.74 1254.44,431.74 1254.99,431.74 1255.54,431.74 1256.09,431.74 1256.64,431.74 1257.19,431.74 1257.74,431.73 1258.29,431.73 1258.84,431.73 1259.38,431.73 1259.93,431.73 1260.48,431.73 1261.03,431.72 1261.58,431.72 1262.13,431.72 1262.68,431.72 1263.23,431.71 1263.78,431.71 1264.33,431.71 1264.88,431.70 1265.43,431.70 1265.98,431.69 1266.53,431.69 1267.08,431.68 1267.63,431.68 1268.18,431.67 1268.73,431.66 1269.28,431.66 1269.83,431.65 1270.38,431.64 1270.93,431.63 1271.48,431.62 1272.03,431.61 1272.58,431.60 1273.13,431.59 1273.68,431.58 1274.23,431.56 1274.78,431.55 1275.33,431.53 1275.88,431.51 1276.43,431.49 1276.98,431.47 1277.53,431.45 1278.08,431.43 1278.63,431.41 1279.18,431.38 1279.73,431.35 1280.28,431.32 1280.83,431.29 1281.38,431.25 1282.17,431.22 1282.96,431.18 1283.74,431.14 1284.52,431.09 1285.30,431.04 1286.07,430.99 1286.85,430.94 1287.61,430.88 1288.38,430.82 1288.98,430.75 1289.54,430.68 1290.10,430.61 1290.65,430.53 1291.21,430.44 1291.77,430.35 1292.32,430.26 1292.88,430.16 1293.43,430.05 1293.98,429.94 1294.53,429.82 1295.08,429.69 1295.63,429.56 1296.18,429.41 1296.73,429.26 1297.28,429.10 1297.82,428.94 1298.37,428.76 1298.91,428.57 1299.46,428.37 1300.00,428.16 1300.54,427.94 1301.08,427.71 1301.63,427.46 1302.17,427.20 1302.71,426.93 1303.25,426.64 1303.79,426.34 1304.33,426.02 1304.86,425.69 1305.40,425.34 1305.94,424.97 1306.48,424.59 1307.02,424.18 1307.55,423.76 1308.09,423.31 1308.63,422.84 1309.16,422.36 1309.70,421.84 1310.23,421.31 1310.77,420.75 1311.31,420.17 1311.84,419.55 1312.38,418.92 1312.91,418.25 1313.45,417.55 1313.98,416.83 1314.52,416.07 1315.06,415.29 1315.59,414.47 1316.13,413.61 1316.66,412.73 1317.20,411.80 1317.74,410.84 1318.28,409.85 1318.81,408.81 1319.35,407.73 1319.89,406.62 1320.43,405.46 1320.97,404.26 1321.50,403.02 1322.04,401.73 1322.58,400.40 1323.13,399.03 1323.67,397.60 1324.21,396.13 1324.75,394.61 1325.30,393.04 1325.84,391.42 1326.38,389.75 1326.93,388.03 1327.48,386.25 1328.02,384.42 1328.57,382.54 1329.12,380.60 1329.67,378.61 1330.22,376.56 1330.77,374.46 1331.33,372.30 1331.88,370.09 1332.44,367.81 1333.00,365.48 1333.55,363.09 1334.12,360.65 1334.68,358.15 1335.24,355.59 1335.81,352.97 1336.37,350.29 1336.94,347.56 1337.52,344.77 1338.09,341.92 1338.67,339.02 1339.24,336.06 1339.83,333.05 1340.41,329.98 1341.00,326.86 1341.59,323.69 1342.19,320.46 1342.79,317.19 1343.39,313.87 1344.00,310.49 1344.60,307.08 1345.22,303.61 1345.83,300.11 1346.45,296.56 1347.08,292.97 1347.70,289.34 1348.33,285.68 1348.95,281.98 1349.58,278.25 1350.21,274.49 1350.85,270.70 1351.48,266.89 1352.11,263.05 1352.75,259.20 1353.38,255.32 1354.02,251.44 1354.66,247.54 1355.29,243.63 1355.93,239.71 1356.56,235.79 1357.20,231.87 1357.84,227.96 1358.47,224.05 1359.11,220.15 1359.75,216.26 1360.39,212.39 1361.02,208.54 1361.66,204.72 1362.30,200.92 1362.94,197.15 1363.57,193.41 1364.21,189.71 1364.85,186.05 1365.49,182.44 1366.12,178.87 1366.76,175.36 1367.40,171.90 1368.04,168.50 1368.68,165.16 1369.31,161.89 1369.95,158.69 1370.59,155.56 1371.23,152.50 1371.87,149.53 1372.51,146.63 1373.15,143.82 1373.79,141.11 1374.43,138.48 1375.07,135.94 1375.72,133.51 1376.36,131.17 1377.00,128.94 1377.64,126.81 1378.29,124.79 1378.93,122.89 1379.58,121.09 1380.22,119.41 1380.87,117.84 1381.52,116.39 1382.16,115.07 1382.81,113.86 1383.46,112.78 1384.11,111.82 1384.76,110.99 1385.41,110.28 1386.06,109.70 1386.71,109.25 1387.37,108.93 1388.02,108.73 1388.68,108.67 1389.36,108.73 1390.04,108.93 1390.72,109.25 1391.40,109.70 1392.08,110.28 1392.77,110.99 1393.45,111.82 1394.14,112.78 1394.82,113.86 1395.51,115.07 1396.20,116.39 1396.88,117.84 1397.57,119.41 1398.26,121.09 1398.95,122.89 1399.64,124.79 1400.33,126.81 1401.02,128.94 1401.71,131.17 1402.40,133.51 1403.10,135.94 1403.79,138.48 1404.48,141.11 1405.17,143.82 1405.87,146.63 1406.56,149.53 1407.25,152.50 1407.94,155.56 1408.64,158.69 1409.33,161.89 1410.03,165.16 1410.72,168.50 1411.41,171.90 1412.11,175.36 1412.80,178.87 1413.49,182.44 1414.19,186.05 1414.88,189.71 1415.57,193.41 1416.26,197.15 1416.96,200.92 1417.65,204.72 1418.34,208.54 1419.03,212.39 1419.72,216.26 1420.41,220.15 1421.10,224.05 1421.79,227.96 1422.48,231.87 1423.16,235.79 1423.85,239.71 1424.53,243.63 1425.22,247.54 1425.90,251.44 1426.58,255.32 1427.26,259.20 1427.94,263.05 1428.62,266.89 1429.29,270.70 1429.96,274.49 1430.63,278.25 1431.30,281.98 1431.96,285.68 1432.62,289.34 1433.28,292.97 1433.93,296.56 1434.58,300.11 1435.23,303.61 1435.87,307.08 1436.50,310.49 1437.13,313.87 1437.76,317.19 1438.37,320.46 1438.99,323.69 1439.59,326.86 1440.19,329.98 1440.79,333.05 1441.38,336.06 1441.97,339.02 1442.55,341.92 1443.12,344.77 1443.70,347.56 1444.26,350.29 1444.82,352.97 1445.38,355.59 1445.94,358.15 1446.48,360.65 1447.03,363.09 1447.57,365.48 1448.11,367.81 1448.64,370.09 1449.17,372.30 1449.69,374.46 1450.21,376.56 1450.72,378.61 1451.23,380.60 1451.74,382.54 1452.24,384.42 1452.74,386.25 1453.24,388.03 1453.73,389.75 1454.21,391.42 1454.69,393.04 1455.17,394.61 1455.65,396.13 1456.11,397.60 1456.58,399.03 1457.04,400.40 1457.50,401.73 1457.95,403.02 1458.39,404.26 1458.84,405.46 1459.28,406.62 1459.71,407.73 1460.14,408.81 1460.57,409.85 1460.99,410.84 1461.40,411.80 1461.81,412.73 1462.22,413.61 1462.62,414.47 1463.02,415.29 1463.41,416.07 1463.80,416.83 1464.19,417.55 1464.57,418.25 1464.94,418.92 1465.31,419.55 1465.68,420.17 1466.04,420.75 1466.39,421.31 1466.74,421.84 1467.09,422.36 1467.43,422.84 1467.76,423.31 1468.09,423.76 1468.42,424.18 1468.74,424.59 1469.06,424.97 1469.37,425.34 1469.67,425.69 1469.97,426.02 1470.27,426.34 1470.56,426.64 1470.84,426.93 1471.12,427.20 1471.40,427.46 1471.67,427.71 1471.93,427.94 1472.19,428.16 1472.45,428.37 1472.69,428.57 1472.94,428.76 1473.17,428.94 1473.41,429.10 1473.63,429.26 1473.85,429.41 1474.07,429.56 1474.28,429.69 1474.48,429.82 1474.68,429.94 1474.87,430.05 1475.06,430.16 1475.24,430.26 1475.42,430.35 1475.59,430.44 1475.76,430.53 1475.91,430.61 1476.07,430.68 1476.22,430.75 1476.40,430.82 1476.73,430.88 1477.06,430.94 1477.39,430.99 1477.72,431.04 1478.04,431.09 1478.36,431.14 1478.67,431.18 1478.99,431.22 1479.29,431.25 1479.84,431.29 1480.39,431.32 1480.94,431.35 1481.49,431.38 1482.04,431.41 1482.59,431.43 1483.14,431.45 1483.69,431.47 1484.24,431.49 1484.79,431.51 1485.34,431.53 1485.89,431.55 1486.44,431.56 1486.99,431.58 1487.54,431.59 1488.09,431.60 1488.64,431.61 1489.19,431.62 1489.74,431.63 1490.29,431.64 1490.84,431.65 1491.39,431.66 1491.94,431.66 1492.49,431.67 1493.04,431.68 1493.59,431.68 1494.14,431.69 1494.69,431.69 1495.24,431.70 1495.79,431.70 1496.34,431.71 1496.88,431.71 1497.43,431.71 1497.98,431.72 1498.53,431.72 1499.08,431.72 1499.63,431.72 1500.18,431.73 1500.73,431.73 1501.28,431.73 1501.83,431.73 1502.38,431.73 1502.93,431.73 1503.48,431.74 1504.03,431.74 1504.58,431.74 1505.13,431.74 1505.68,431.74 1506.23,431.74 1506.78,431.74 1507.33,431.74 1507.88,431.74 1508.43,431.74 1508.98,431.74 1509.53,431.74 1510.08,431.75 1510.63,431.75 1511.18,431.75 1511.73,431.75 1512.28,431.75 1512.83,431.75 1513.38,431.75 1513.93,431.75 1514.48,431.75 1515.03,431.75 1515.58,431.75 1516.13,431.75 1516.68,431.75 1517.23,431.75 1517.78,431.75 1518.33,431.75 1518.88,431.75 1519.43,431.75 1519.98,431.75 1520.52,431.75 1521.07,431.75 1521.62,431.75 1522.17,431.75 1522.72,431.75 1523.27,431.75 1523.82,431.75 1524.37,431.75 1524.92,431.75 1525.47,431.75 1526.02,431.75 1526.57,431.75 1527.12,431.75 1527.67,431.75 1528.22,431.75 1528.77,431.75 1529.32,431.75 1529.87,431.75 1530.42,431.75 1530.97,431.75 1531.52,431.75 1532.07,431.75 1532.62,431.75 1533.17,431.75 1533.72,431.75 1534.27,431.75 1534.82,431.75 1535.37,431.75 1535.92,431.75 1536.47,431.75 1537.02,431.75 1537.57,431.75 1538.12,431.75 1538.67,431.75 1539.22,431.75 1539.77,431.75 1540.32,431.75 1540.87,431.75 1541.42,431.75 1541.97,431.75 1542.52,431.75 1543.07,431.75 1543.62,431.75 1544.16,431.75 1544.71,431.75 1545.26,431.75 1545.81,431.75 1546.36,431.75 1546.91,431.75 1547.46,431.75 1548.01,431.75 1548.56,431.75 1549.11,431.75 1549.66,431.75 1550.21,431.75 1550.76,431.75 1551.31,431.75 1551.86,431.75 1552.41,431.75 1552.96,431.75 1553.51,431.75 1554.06,431.75 1554.61,431.75 1555.16,431.75 1555.71,431.75 1556.26,431.75 1556.81,431.75 1557.36,431.75 1557.91,431.75 1558.46,431.75 1559.01,431.75 1559.56,431.75 1560.11,431.75 1560.66,431.75 1561.21,431.75 1561.76,431.75 1562.31,431.75 1562.86,431.75 1563.41,431.75 1563.96,431.75 1564.51,431.75 1565.06,431.75 1565.61,431.75 1566.16,431.75 1566.71,431.75 1567.26,431.75 1567.80,431.75 1568.35,431.75 1568.90,431.75 1569.45,431.75 1570.00,431.75 1570.55,431.75 1571.10,431.75 1571.65,431.75 1572.20,431.75 1572.75,431.75 1738.43,431.75" stroke="#ff0000" stroke-width="3.95"/>
</g>
<text class="tk" text-anchor="end" transform="translate(988.2,442.9) scale(0.953,1)">0.00</text>
<text class="tk" text-anchor="end" transform="translate(988.2,367.7) scale(0.953,1)">0.02</text>
<text class="tk" text-anchor="end" transform="translate(988.2,292.5) scale(0.953,1)">0.04</text>
<text class="tk" text-anchor="end" transform="translate(988.2,217.2) scale(0.953,1)">0.06</text>
<text class="tk" text-anchor="end" transform="translate(988.2,142.0) scale(0.953,1)">0.08</text>
<text class="tk" text-anchor="end" transform="translate(988.2,66.7) scale(0.953,1)">0.10</text>
<text class="tk" text-anchor="middle" transform="translate(1110.1,469.6) scale(0.953,1)">-40</text>
<text class="tk" text-anchor="middle" transform="translate(1249.3,469.6) scale(0.953,1)">-20</text>
<text class="tk" text-anchor="middle" transform="translate(1388.5,469.6) scale(0.953,1)">0</text>
<text class="tk" text-anchor="middle" transform="translate(1527.7,469.6) scale(0.953,1)">20</text>
<text class="tk" text-anchor="middle" transform="translate(1666.9,469.6) scale(0.953,1)">40</text>
<text class="lb" text-anchor="middle" x="1388.5" y="512.6">Percentage of precipitation anomalies(%)</text>
<text class="lb" text-anchor="middle" transform="translate(918.8,231.0) rotate(-90)">Probability density</text>
<text class="lb" x="1005.6" y="19.4">(b)</text>
<rect x="1020.4" y="45.4" width="184.4" height="94.8" rx="4.5" ry="4.5" fill="#ffffff" fill-opacity="0.8" stroke="#cccccc" stroke-width="1.3"/>
<line x1="1033.0" y1="67.9" x2="1092.5" y2="67.9" stroke="#000000" stroke-width="3.95" stroke-linecap="square"/>
<text class="lgb" text-anchor="start" transform="translate(1117.2,79.4) scale(0.953,1)">MME</text>
<line x1="1033.0" y1="110.7" x2="1092.5" y2="110.7" stroke="#ff0000" stroke-width="3.95" stroke-linecap="square"/>
<text class="lgb" text-anchor="start" transform="translate(1117.2,121.8) scale(0.953,1)">ERA5</text>
</svg></body></html>
